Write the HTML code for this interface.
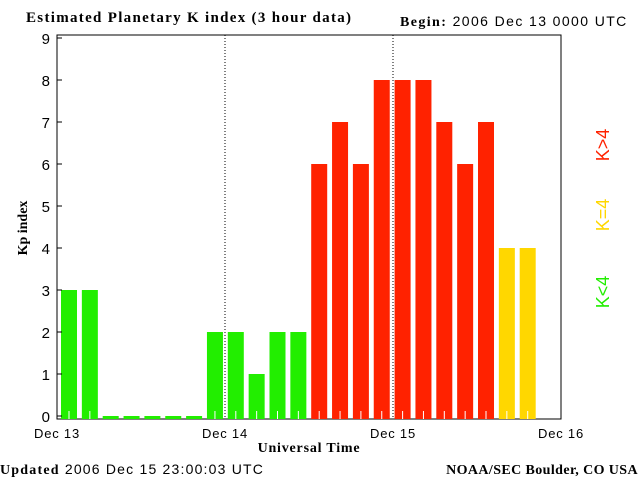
<!DOCTYPE html>
<html><head><meta charset="utf-8"><style>
body{margin:0;background:#fff;}
svg{display:block;font-family:"Liberation Sans",sans-serif;}
.s{font-family:"Liberation Serif",serif;font-weight:bold;}
</style></head><body>
<svg id="c" width="640" height="480">
<text class="s" x="26" y="22" font-size="15" letter-spacing="1.3">Estimated Planetary K index (3 hour data)</text>
<text x="400" y="26" font-size="14" letter-spacing="1.4"><tspan class="s">Begin:</tspan> 2006 Dec 13 0000 UTC</text>
<rect x="57" y="35" width="504" height="384" fill="none" stroke="#000"/>
<line x1="225" y1="35" x2="225" y2="419" stroke="#000" stroke-dasharray="1,2"/>
<line x1="393" y1="35" x2="393" y2="419" stroke="#000" stroke-dasharray="1,2"/>
<g id="bars"></g><g id="yt"></g><g id="xt"></g>
<text class="s" x="0" y="0" font-size="14" transform="translate(27,228) rotate(-90)" text-anchor="middle">Kp index</text>
<text class="s" x="309" y="452" font-size="14" letter-spacing="0.8" text-anchor="middle">Universal Time</text>
<text x="0" y="474" font-size="14" letter-spacing="1.2"><tspan class="s">Updated</tspan> 2006 Dec 15 23:00:03 UTC</text>
<text class="s" x="638" y="474" font-size="14" letter-spacing="0.4" text-anchor="end">NOAA/SEC Boulder, CO USA</text>
<text x="0" y="0" font-size="18" fill="#ff2200" transform="translate(609,145) rotate(-90)" text-anchor="middle">K&gt;4</text>
<text x="0" y="0" font-size="18" fill="#ffd700" transform="translate(609,215) rotate(-90)" text-anchor="middle">K=4</text>
<text x="0" y="0" font-size="18" fill="#22ee00" transform="translate(609,292) rotate(-90)" text-anchor="middle">K&lt;4</text>
</svg>
<script>
const kpValues=[3,3,0,0,0,0,0,2,2,1,2,2,6,7,6,8,8,8,7,6,7,4,4];
const yTicks=[0,1,2,3,4,5,6,7,8,9];
const xLabels=["Dec 13","Dec 14","Dec 15","Dec 16"];
const NS="http://www.w3.org/2000/svg";
const y=v=>416-42*v, x=i=>57+20.85*i;
function mk(t,a,p){const e=document.createElementNS(NS,t);for(const k in a)e.setAttribute(k,a[k]);p.appendChild(e);return e;}
const bars=document.getElementById('bars');
kpValues.forEach((v,i)=>{
 const col=v>4?'#ff2200':v==4?'#ffd700':'#22ee00';
 const top=v==0?416:y(v);
 const r=mk('rect',{x:x(i)+4,y:top,width:16,height:419-top,fill:col},bars);
 
 
 if(v>0){const l=mk('line',{x1:x(i)+12,x2:x(i)+12,y1:411,y2:419,stroke:'#fff'},bars);
 
 }
});
const yt=document.getElementById('yt');
yTicks.forEach(v=>{
 const l=mk('line',{x1:57,x2:62,y1:y(v),y2:y(v),stroke:'#000'},yt);
 
 
 const t=mk('text',{x:50,y:y(v)+6,'font-size':15,'text-anchor':'end'},yt);t.textContent=v;
 
 
});
const xt=document.getElementById('xt');
xLabels.forEach((s,i)=>{
 const t=mk('text',{x:57+168*i,y:438,'font-size':13,'letter-spacing':0.8,'text-anchor':'middle'},xt);t.textContent=s;
 
 
});
</script>
</body></html>
